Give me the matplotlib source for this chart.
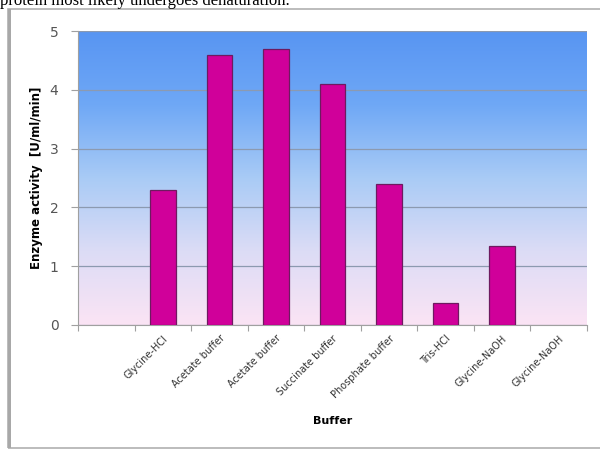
import numpy as np
import matplotlib.pyplot as plt
from matplotlib.colors import LinearSegmentedColormap
from matplotlib.patches import Rectangle

# enzyme activity per buffer (first slot is left blank on the axis)
buffers = ['', 'Glycine-HCl', 'Acetate buffer', 'Acetate buffer', 'Succinate buffer',
           'Phosphate buffer', 'Tris-HCl', 'Glycine-NaOH', 'Glycine-NaOH']
activity = [0, 2.3, 4.6, 4.7, 4.1, 2.4, 0.38, 1.35, 0]

fig = plt.figure(figsize=(6, 4.51), dpi=100)

# surrounding document text and chart frame
fig.text(0.0, 1.0 - 5 / 451, 'protein most likely undergoes denaturation.',
         family='Liberation Serif', fontsize=12, ha='left', va='baseline')
fig.patches.append(Rectangle((8 / 600, 3 / 451), 600 / 600, 439 / 451,
                             transform=fig.transFigure, fill=False,
                             edgecolor='#b0b0b0', linewidth=1.2))
fig.patches.append(Rectangle((8 / 600, 3 / 451), 3 / 600, 439 / 451,
                             transform=fig.transFigure, facecolor='#a8a8a8',
                             edgecolor='none'))

ax = fig.add_axes([78 / 600, 126 / 451, 509 / 600, 294 / 451])

# blue-to-pink background of the plot area
bg = LinearSegmentedColormap.from_list(
    'bg', ['#fbe4f4', '#dcdcf6', '#a9cbf5', '#6fa8f6', '#5895f2'])
grad = np.linspace(0, 1, 256).reshape(-1, 1)
x = np.arange(len(buffers))
ax.imshow(grad, cmap=bg, origin='lower', aspect='auto',
          extent=[-0.5, len(buffers) - 0.5, 0, 5], zorder=0)

# empty slots get no outline
edges = ['#6e1a60' if v > 0 else 'none' for v in activity]
ax.bar(x, activity, width=0.45, color='#d0009a', edgecolor=edges,
       linewidth=0.9, zorder=3)

ax.set_xlim(-0.5, len(buffers) - 0.5)
ax.set_ylim(0, 5)
ax.set_yticks([0, 1, 2, 3, 4, 5])
ax.yaxis.grid(True, color='#8c9ab0', linewidth=0.9, zorder=1)
ax.set_axisbelow(True)

ax.set_xticks(np.arange(len(buffers) + 1) - 0.5, minor=False)
ax.set_xticklabels([])
ax.set_xticks(x, minor=True)
ax.set_xticklabels(buffers, minor=True, rotation=45, ha='right', va='top',
                   rotation_mode='anchor', fontsize=7, color='#333333')
ax.tick_params(axis='x', which='minor', length=0, pad=6)
ax.tick_params(axis='x', which='major', length=4, color='#a0a0a0')
ax.tick_params(axis='y', length=5, color='#a0a0a0', labelsize=10,
               labelcolor='#555555', pad=9)

for side in ['top', 'right']:
    ax.spines[side].set_visible(False)
for side in ['left', 'bottom']:
    ax.spines[side].set_color('#a0a0a0')

ax.set_xlabel('Buffer', fontsize=8, fontweight='bold', labelpad=12)
ax.set_ylabel('Enzyme activity  [U/ml/min]', fontsize=8.5, fontweight='bold',
              labelpad=5)

fig.savefig('out.png', dpi=100)
